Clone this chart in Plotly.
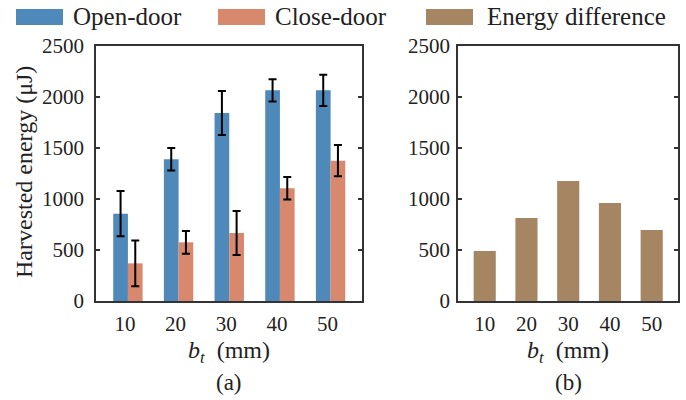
import plotly.graph_objects as go

categories = ["10", "20", "30", "40", "50"]
open_door = [856, 1389, 1843, 2065, 2065]
open_err = [222, 110, 215, 110, 153]
close_door = [369, 575, 667, 1105, 1376]
close_err = [225, 111, 215, 110, 153]
energy_diff = [490, 814, 1176, 961, 696]
y_ticks = [0, 500, 1000, 1500, 2000, 2500]

BLUE = "#4E89BA"
ORANGE = "#D7886D"
BROWN = "#A68563"
AX = "#333333"
FONT = "Liberation Serif, Times New Roman, Times, DejaVu Serif, serif"

fig = go.Figure()
fig.add_trace(go.Bar(x=categories, y=open_door, name="Open-door", marker_color=BLUE,
                     marker_line_width=0, xaxis="x", yaxis="y",
                     error_y=dict(type="data", array=open_err, color="black", thickness=2, width=4)))
fig.add_trace(go.Bar(x=categories, y=close_door, name="Close-door", marker_color=ORANGE,
                     marker_line_width=0, xaxis="x", yaxis="y",
                     error_y=dict(type="data", array=close_err, color="black", thickness=2, width=4)))
fig.add_trace(go.Bar(x=categories, y=energy_diff, name="Energy difference", marker_color=BROWN,
                     marker_line_width=0, xaxis="x2", yaxis="y2", width=0.53))

W, H = 686, 400
def px(x): return x / W
def py(y): return 1 - y / H

yax = dict(range=[0, 2500], tickvals=y_ticks, ticks="inside", ticklen=4, tickwidth=1.5,
           tickcolor=AX, showline=True, linecolor=AX, linewidth=1.5, mirror="ticks",
           showgrid=False, zeroline=False, tickfont=dict(family=FONT, size=21, color="#222"),
           domain=[py(301), py(46)], automargin=False)
xax = dict(type="category", showline=True, linecolor=AX, linewidth=1.5, mirror=True,
           ticks="", showgrid=False, zeroline=False, automargin=False,
           tickfont=dict(family=FONT, size=21, color="#222"), ticklabelstandoff=3)

fig.update_layout(
    width=W, height=H, margin=dict(l=0, r=0, t=0, b=0, pad=0, autoexpand=False),
    autosize=False,
    font=dict(family=FONT, size=21, color="#222"),
    paper_bgcolor="white", plot_bgcolor="white",
    barmode="group", bargap=0.42, bargroupgap=0, showlegend=False,
    xaxis=dict(xax, domain=[px(96), px(362)], range=[-0.63, 4.62], anchor="y", ticklabelshift=-3),
    yaxis=dict(yax, anchor="x", ticklabelstandoff=6),
    xaxis2=dict(xax, domain=[px(458), px(678)], range=[-0.64, 4.63], anchor="y2"),
    yaxis2=dict(yax, anchor="x2", ticklabelstandoff=2),
)

ann = []
def txt(text, x, y, size, xanchor="center", angle=0):
    ann.append(dict(text=text, x=px(x), y=py(y), xref="paper", yref="paper",
                    xanchor=xanchor, yanchor="middle", showarrow=False, textangle=angle,
                    font=dict(family=FONT, size=size, color="#222")))

# y title
txt("Harvested energy (μJ)", 24, 172, 24, angle=-90)
# x titles
txt("<i>b</i><sub><i>t</i></sub>  (mm)", 229, 352, 24)
txt("<i>b</i><sub><i>t</i></sub>  (mm)", 568, 352, 24)
txt("(a)", 229, 382, 23)
txt("(b)", 568, 382, 23)

# legend
legend_items = [("Open-door", BLUE, 16, 71), ("Close-door", ORANGE, 218, 273),
                ("Energy difference", BROWN, 426, 485)]
shapes = []
for name, col, sx, tx in legend_items:
    shapes.append(dict(type="rect", xref="paper", yref="paper", x0=px(sx), x1=px(sx + 47),
                       y0=py(25), y1=py(9), fillcolor=col, line_width=0))
    txt(name, tx, 17, 25, xanchor="left")

fig.update_layout(annotations=ann, shapes=shapes)
fig.write_html("out.html", config={"responsive": False})
